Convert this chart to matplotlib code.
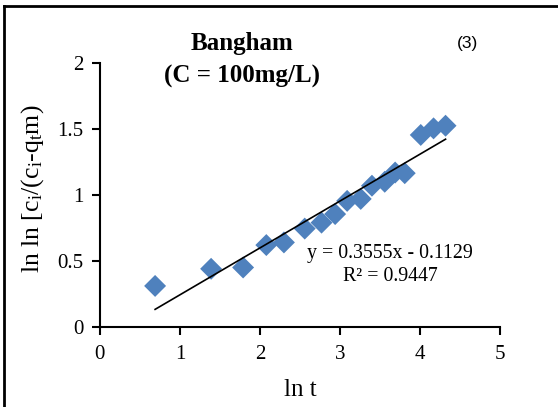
import numpy as np
import matplotlib.pyplot as plt
from matplotlib.lines import Line2D

# ln t and ln ln [ci/(ci-qt m)]
ln_t = [0.69, 1.39, 1.79, 2.08, 2.30, 2.56, 2.77, 2.94, 3.09, 3.26, 3.40,
        3.56, 3.69, 3.81, 4.01, 4.17, 4.32]
lnln = [0.31, 0.44, 0.45, 0.62, 0.64, 0.745, 0.79, 0.855, 0.955, 0.97, 1.07,
        1.10, 1.17, 1.165, 1.455, 1.505, 1.525]
slope = 0.3555
intercept = -0.1129
r2 = 0.9447
x_ticks = [0, 1, 2, 3, 4, 5]
y_ticks = [0, 0.5, 1, 1.5, 2]
y_ticklabels = ["0", "0.5", "1", "1.5", "2"]

plt.rcParams["font.family"] = "Liberation Serif"
plt.rcParams["mathtext.fontset"] = "custom"
plt.rcParams["mathtext.rm"] = "Liberation Serif"
plt.rcParams["mathtext.it"] = "Liberation Serif"

fig = plt.figure(figsize=(5.58, 4.07), dpi=100)
ax = fig.add_axes([0.179, 0.197, 0.717, 0.648])

ax.scatter(ln_t, lnln, marker="D", s=125, color="#4F81BD", edgecolors="none", zorder=3)
xl = np.array([ln_t[0], ln_t[-1]])
ax.plot(xl, slope * xl + intercept, color="black", lw=1.2, zorder=4)

ax.set_xlim(0, 5)
ax.set_ylim(0, 2)
ax.set_xticks(x_ticks)
ax.set_yticks(y_ticks)
ax.set_yticklabels(y_ticklabels)
ax.spines["top"].set_visible(False)
ax.spines["right"].set_visible(False)
ax.spines["left"].set_linewidth(1.5)
ax.spines["bottom"].set_linewidth(1.5)
ax.tick_params(direction="out", length=6, width=1.5, labelsize=15, colors="black")
ax.tick_params(axis="x", pad=7)
ax.tick_params(axis="y", pad=6)
ax.set_xlabel("ln t", fontsize=18, labelpad=11)
ax.set_ylabel(r"ln ln [c$_\mathrm{i}$/(c$_\mathrm{i}$-q$_\mathrm{t}$m)", fontsize=18.5, labelpad=8)
ax.yaxis.label.set_y(0.525)

fig.text(0.434, 0.893, "Bangham", ha="center", va="center", fontsize=18, fontweight="bold")
fig.text(0.434, 0.813, "(C = 100mg/L)", ha="center", va="center", fontsize=18, fontweight="bold")
fig.text(0.838, 0.893, "(3)", ha="center", va="center", fontsize=12.5, family="Liberation Sans")

ax.text(3.625, 0.555, "y = %.4fx - %.4f" % (slope, -intercept), ha="center", va="center", fontsize=14.3)
ax.text(3.625, 0.38, "R² = %.4f" % r2, ha="center", va="center", fontsize=14.3)

fig.add_artist(Line2D([4 / 558, 4 / 558], [0, 1 - 6 / 407], color="black", lw=2))
fig.add_artist(Line2D([4 / 558, 1], [1 - 6 / 407, 1 - 6 / 407], color="black", lw=2))

fig.savefig("out.png", dpi=100)
